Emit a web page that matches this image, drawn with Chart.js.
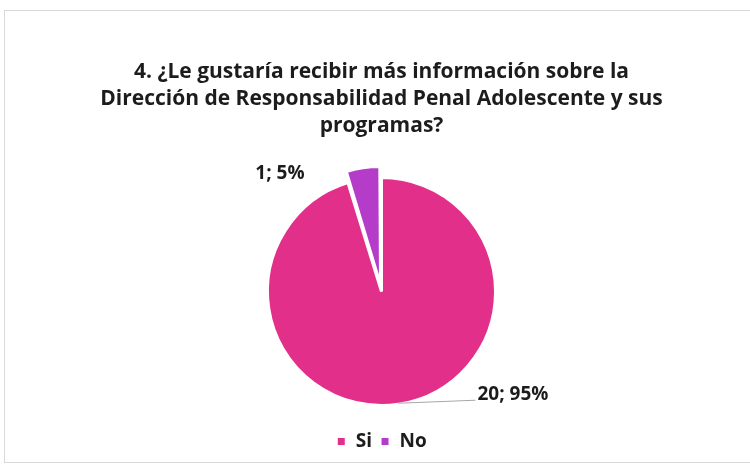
<!DOCTYPE html>
<html>
<head>
<meta charset="utf-8">
<script src="https://cdn.jsdelivr.net/npm/chart.js@4"></script>
<style>
  html, body { margin: 0; padding: 0; background: #fff; }
  #frame { position: absolute; left: 4px; top: 10px; width: 800px; height: 451px; border: 1px solid #d9d9d9; }
  #wrap { position: absolute; left: 0; top: 0; width: 750px; height: 466px; }
</style>
</head>
<body>
<div id="frame"></div>
<div id="wrap"><canvas id="chart" width="750" height="466"></canvas></div>
<script>
const categories = ['Si', 'No'];
const counts = [20, 1];
const percents = [95, 5];
const sliceColors = ['#E2308A', '#B43CC8'];
const titleLines = [
  '4. ¿Le gustaría recibir más información sobre la',
  'Dirección de Responsabilidad Penal Adolescente y sus',
  'programas?'
];

const FONT = '"Open Sans", "Liberation Sans", sans-serif';

// labels "n; p%" next to each slice, the big one with a leader line
const sliceLabels = {
  id: 'sliceLabels',
  afterDatasetsDraw(chart) {
    const ctx = chart.ctx;
    const meta = chart.getDatasetMeta(0);
    const offsets = chart.data.datasets[0].offset;
    ctx.save();
    ctx.font = 'bold 19px ' + FONT;
    ctx.fillStyle = '#1c1c1c';
    ctx.textBaseline = 'middle';
    meta.data.forEach((arc, i) => {
      const p = arc.getProps(['x', 'y', 'startAngle', 'endAngle', 'outerRadius'], true);
      const mid = (p.startAngle + p.endAngle) / 2;
      // the exploded arc sits offset / 2 further out
      const r = p.outerRadius + (offsets[i] || 0) / 2;
      const ex = p.x + Math.cos(mid) * r;
      const ey = p.y + Math.sin(mid) * r;
      const text = counts[i] + '; ' + percents[i] + '%';
      if (i === 0) {
        ctx.strokeStyle = '#a6a6a6';
        ctx.lineWidth = 1;
        ctx.beginPath();
        ctx.moveTo(ex, ey - 1);
        ctx.lineTo(ex + 77, ey - 4);
        ctx.stroke();
        ctx.textAlign = 'left';
        ctx.fillText(text, ex + 79, ey - 10);
      } else {
        ctx.textAlign = 'right';
        ctx.fillText(text, ex - 58, ey + 8);
      }
    });
    ctx.restore();
  }
};

new Chart(document.getElementById('chart'), {
  type: 'pie',
  data: {
    labels: categories,
    datasets: [{
      data: counts,
      backgroundColor: sliceColors,
      borderColor: '#ffffff',
      borderWidth: 3,
      offset: [0, 26],
      radius: 114
    }]
  },
  options: {
    responsive: false,
    animation: false,
    layout: { padding: { left: 13, right: 0, top: 0, bottom: 5 } },
    plugins: {
      title: {
        display: true,
        text: titleLines,
        color: '#1c1c1c',
        font: { family: FONT, size: 21, weight: 'bold', lineHeight: 27 / 21 },
        padding: { top: 59, bottom: 19 }
      },
      legend: {
        position: 'bottom',
        labels: {
          color: '#1c1c1c',
          font: { family: FONT, size: 19, weight: 'bold' },
          boxWidth: 10,
          boxHeight: 10,
          padding: 8
        }
      },
      tooltip: { enabled: false }
    }
  },
  plugins: [sliceLabels]
});
</script>
</body>
</html>
